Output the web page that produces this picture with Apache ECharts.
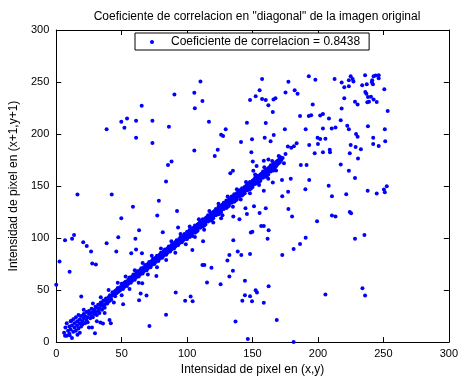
<!DOCTYPE html>
<html><head><meta charset="utf-8">
<script src="https://cdn.jsdelivr.net/npm/echarts@6/dist/echarts.min.js"></script>
<style>html,body{margin:0;padding:0;background:#fff}#c{width:461px;height:381px}</style>
</head><body><div id="c"></div>
<script>
const chartTitle = 'Coeficiente de correlacion en "diagonal" de la imagen original';
const xAxisName = 'Intensidad de pixel en (x,y)';
const yAxisName = 'Intensidad de pixel en (x+1,y+1)';
const seriesName = 'Coeficiente de correlacion = 0.8438';
const xTicks = [0, 50, 100, 150, 200, 250, 300];
const yTicks = [0, 50, 100, 150, 200, 250, 300];

// dense diagonal band, low part (wide)
const bandLow = [[6,9],[7,14],[8,6],[8,18],[9,11],[10,15],[10,8],[11,20],[11,12],[12,16],[13,10],[13,22],[14,14],[14,18],[15,11],[15,24],[16,16],[16,20],[17,13],[17,26],[18,18],[18,22],[19,15],[19,25],[20,20],[20,17],[21,27],[21,23],[22,18],[22,25],[23,21],[23,29],[24,24],[24,19],[25,27],[25,30],[26,23],[26,28],[27,25],[27,32],[28,29],[28,24],[29,31],[29,27],[30,34],[30,29],[31,26],[31,33],[32,30],[32,36],[33,32],[33,28],[34,35],[34,38],[35,31],[35,37],[36,34],[36,40],[37,36],[37,33],[38,39],[38,42],[39,37],[39,41],[40,43],[40,39],[41,40],[41,45],[42,44],[42,41]];
// diagonal band, middle part
const bandMid = [[43,45],[43,48],[44,46],[45,49],[45,44],[46,50],[46,47],[47,48],[47,52],[48,51],[48,49],[49,53],[49,50],[50,52],[50,56],[51,54],[51,51],[52,57],[52,53],[53,55],[53,58],[54,57],[54,54],[55,60],[55,56],[56,58],[56,62],[57,60],[57,57],[58,63],[58,59],[59,61],[59,65],[60,63],[60,60],[61,66],[61,62],[62,64],[62,68],[63,66],[63,63],[64,69],[64,65],[65,67],[65,71],[66,69],[66,66],[67,72],[67,68],[68,70],[68,74],[69,72],[69,69],[70,75],[70,71],[71,73],[71,77],[72,75],[72,72],[73,78],[73,74],[74,76],[74,80],[75,78],[75,75],[76,81],[76,77],[77,79],[77,83],[78,81],[78,78],[79,84],[79,80],[80,82],[80,86],[81,84],[81,81],[82,87],[82,83],[83,85],[83,89],[84,87],[84,84],[85,90],[85,86],[86,88],[86,92],[87,90],[87,87],[88,93],[88,89],[89,91],[89,95],[90,93],[90,90],[91,96],[91,92],[92,94],[92,98],[93,96],[93,93],[94,99],[94,95],[95,97],[95,101],[96,99],[96,96],[97,102],[97,98],[98,100],[98,104],[99,102],[99,99]];
// diagonal band, upper part
const bandHigh = [[100,99],[100,103],[100,106],[101,102],[101,105],[102,101],[102,104],[102,108],[103,106],[103,103],[104,105],[104,109],[104,102],[105,107],[105,110],[106,105],[106,108],[106,112],[107,110],[107,106],[108,109],[108,113],[108,107],[109,111],[109,114],[110,110],[110,113],[110,116],[111,112],[111,115],[112,111],[112,114],[112,118],[113,116],[113,112],[114,115],[114,119],[114,113],[115,117],[115,120],[116,116],[116,119],[116,122],[117,118],[117,121],[118,117],[118,120],[118,124],[119,122],[119,118],[120,121],[120,125],[120,119],[121,123],[121,126],[122,122],[122,125],[122,128],[123,124],[123,127],[124,123],[124,126],[124,130],[125,128],[125,124],[126,127],[126,131],[126,125],[127,129],[127,132],[128,128],[128,131],[128,134],[129,130],[129,133],[130,129],[130,132],[130,136],[131,134],[131,130],[132,133],[132,137],[132,131],[133,135],[133,138],[134,134],[134,137],[134,140],[135,136],[135,139],[136,135],[136,138],[136,142],[137,140],[137,136],[138,139],[138,143],[138,137],[139,141],[139,144],[140,140],[140,143],[140,146],[141,142],[141,145],[142,141],[142,144],[142,148],[143,146],[143,142],[144,145],[144,149],[144,143],[145,147],[145,150],[146,146],[146,149],[146,152],[147,148],[147,151],[148,147],[148,150],[148,154],[149,152],[149,148],[150,151],[150,155],[150,149],[151,153],[151,156],[152,152],[152,155],[152,158],[153,154],[153,157],[154,153],[154,156],[154,160],[155,158],[155,154],[156,157],[156,161],[156,155],[157,159],[157,162],[158,158],[158,161],[158,164],[159,160],[159,163],[160,159],[160,162],[160,166],[161,164],[161,160],[162,163],[162,167],[162,161],[163,165],[163,168],[164,164],[164,167],[164,170],[165,166],[165,169],[166,165],[166,168],[166,172],[167,170],[167,166],[168,169],[168,173],[169,171],[169,174],[170,172],[170,175],[171,173],[171,176],[172,175],[173,177]];
// ragged edges of the band
const bandEdge = [[12,4],[18,9],[21,31],[25,14],[28,37],[31,20],[34,43],[37,28],[40,50],[44,38],[47,57],[50,45],[53,63],[56,51],[60,69],[63,57],[66,76],[70,65],[73,83],[77,72],[80,90],[84,79],[88,97],[91,86],[95,104],[99,94],[102,111],[106,101],[109,118],[113,108],[117,126],[120,115],[124,133],[127,122],[131,140],[135,130],[138,147],[141,137],[145,154],[148,143],[152,161],[155,151],[159,168],[162,157],[165,174],[168,165],[171,178],[174,172],[170,179]];
// scattered points away from the diagonal
const outliers = [[110.2,250.5],[90.3,238.1],[105.5,239.7],[111.7,231.7],[105.9,224.8],[65.3,227.3],[148.1,232.7],[54.1,215],[49.7,211.7],[61,212.7],[73.5,212.7],[38.5,204.5],[52.1,206],[86.1,207],[116.7,211.7],[145.7,210.8],[129.5,204.5],[126,199.3],[127.5,198.1],[61,196.5],[73.5,191.4],[141.2,192.4],[149.6,195],[105.5,184.1],[123.4,185],[121.1,179],[149.1,182.6],[88.1,173.6],[85.4,170.2],[150.2,173.6],[135,164.8],[133,162.2],[150.6,164.8],[83.9,154.3],[16.2,141.9],[42.4,141.9],
[157.3,253],[193,255.5],[198,252.1],[177.4,250.2],[212.7,253],[218.1,249.5],[220.1,245],[223.6,251.7],[223.6,246],[225,255.5],[226.5,253],[227.1,250.5],[236,256.5],[237.3,247.9],[233.8,247],[242.5,255.5],[244,256.2],[246.4,256.5],[246.4,253.6],[241.4,251.7],[242,247.9],[241.2,249.8],[250.7,243.1],[236.2,240.3],[237,238.8],[238.2,235.5],[240.5,235.9],[242.5,233.3],[239,231.1],[237.7,230.5],[244.9,230.8],[155.4,242.2],[152.4,236.2],[157.3,233.6],[160.1,232.7],[166,233.3],[167.5,234.3],[175.2,240],[182.2,242.2],[184.4,238.8],[162.1,227.6],[165.5,221.2],[196,228.3],[220.1,234.3],[228.3,231.1],[230.3,228.3],[253.3,222.2],[218.1,224.5],[186.3,217.4],[193,217.4],[194.8,218.1],[201.7,217.8],[203.8,219.3],[208.4,215],[217.4,213.3],[222.4,207.9],[223.6,204.5],[238.2,207.6],[251.1,204.5],[160.1,210.5],[174.7,204.5],[190.6,204.5],[203.8,205.4],[210.5,205.4],[213.4,206.4],[229.1,200],[230.3,197.4],[242.2,196.5],[251.4,193],[242.2,190.5],[246.4,188.6],[159.3,196.5],[166.2,199],[163.8,193],[199.7,196.5],[201.7,195.2],[205.7,195.5],[225,189.5],[228.8,187.6],[232.8,185.4],[230.6,176.5],[193.3,189.5],[200,190.5],[209,185],[209.2,182.6],[203.8,182.6],[197.5,181.6],[224.3,181.6],[183.7,191.1],[181.6,188.3],[179.6,186.7],[177,187.9],[175.2,180.7],[153.1,169.2],[158.6,174.3],[162.1,175.5],[186.9,170.2],[191.3,170.2],[217.4,170.8],[223.6,164.8],[228.3,157.8],[179.2,157.1],[172.5,155.9],[193.3,155.9],[165.5,153.3],[208.2,150.2],[190.4,147],[177.2,144.5],[172.7,140.3],[158.6,145.4],[210.7,140.3],[221.6,142.2],[238,145.4],[244.9,142.9],[250.4,146.7],[251.1,144.1],[252.6,149.8],
[151.1,130.5],[160.1,128.6],[155.4,124.1],[177.4,127.9],[180.2,120.7],[156.6,111.7],[158.6,111.7],[162.3,107.6],[148.7,105.4],[149.9,106],[161.5,99.3],[148.1,84.8],[172.7,83.8],[181.4,89.5],[186.3,94.3],[190.6,100.3],[199.3,116.2],[210.7,121.6],[213.4,120.7],[224.3,125],[225.3,123.8],[228.3,99.3],[235.5,102.9],[148.1,44.1],[149.6,39.3],[152.4,49.8],[153.4,47.6],[162.3,53.6],[158.6,37.8],[168.5,21.2],[181.4,0],[205.7,45.7],[234,51.7],[236,44.8],
[58.6,130.2],[78.4,135.9],[92.3,126],[77.2,121.6],[49.7,119],[63.3,107.6],[93.1,110.2],[81.4,105.7],[6.7,97.8],[12.1,99.3],[13.6,102.9],[20.6,95.9],[23.3,92.4],[38.5,95],[47.4,100.7],[60.5,99.3],[26.6,87],[45.9,87],[61,88.9],[57.3,85.4],[65.5,85.4],[2.5,77.4],[27.5,75.5],[30.3,74.6],[10.2,67.6],[0,55.2],[76.5,63.5],[65.7,56.5],[64.5,46.7],[69,44.8],[63.3,40.3],[51.1,36.5],[19.1,43.8],[91.3,47.6],[83.9,26.4],[71.2,15.5],[35.7,17.8],[40.7,21.2],[41.7,18.1],[33.7,18.8],[27.3,14],[29.6,8.6],[10.2,6.7],[6.7,6],[16.2,7],[11.4,20.3],[102.7,43.8],[98.5,39.7],[104.2,39.3],[104,88.6],[112.2,96.9],[126,119],[135.3,120.7],[140,118.1],[144.6,128.6],[145.7,123.1],[135.3,97.8],[138.7,87],[141.4,83.8],[132.3,83.8],[130.8,78.4],[111.7,74],[113.2,74],[118.6,71.4],[135,68.6],[132.3,63.1],[115.2,57.4],[125.6,55.5],[144.2,59],[144.2,45],[142.2,39.7],[137,19.7],[146.4,2.9]];

const FONT = '"Liberation Sans", Arial, Helvetica, sans-serif';
const chart = echarts.init(document.getElementById('c'), null, {renderer: 'canvas'});
const axisCommon = {
  min: 0, max: 300, interval: 50,
  axisLine: {show: true, onZero: false, lineStyle: {color: '#000', width: 1}},
  axisTick: {show: true, inside: true, length: 5, lineStyle: {color: '#000'}},
  splitLine: {show: false}
};
chart.setOption({
  animation: false,
  backgroundColor: '#fff',
  title: {
    text: chartTitle, left: 252, top: 6, textAlign: 'center',
    textStyle: {fontFamily: FONT, fontSize: 12, fontWeight: 'normal', color: '#000'}
  },
  legend: {
    data: [seriesName], left: 135, top: 33,
    padding: [3, 9, 2, 15], itemWidth: 4, itemHeight: 4, icon: 'circle',
    borderColor: '#000', borderWidth: 1, backgroundColor: '#fff',
    textStyle: {fontFamily: FONT, fontSize: 12, color: '#000', padding: [0, 0, 0, 12]}
  },
  grid: {left: 51, right: 7, top: 30, bottom: 36, containLabel: false},
  xAxis: [
    Object.assign({}, axisCommon, {
      type: 'value', position: 'bottom',
      axisLabel: {fontFamily: FONT, fontSize: 11, color: '#000', margin: 6,
        formatter: v => xTicks.includes(v) ? String(v) : ''},
      name: xAxisName, nameLocation: 'middle', nameGap: 21,
      nameTextStyle: {fontFamily: FONT, fontSize: 12, color: '#000'}
    }),
    Object.assign({}, axisCommon, {type: 'value', position: 'top', axisLabel: {show: false}})
  ],
  yAxis: [
    Object.assign({}, axisCommon, {
      type: 'value', position: 'left',
      axisLabel: {fontFamily: FONT, fontSize: 11, color: '#000', margin: 7,
        formatter: v => yTicks.includes(v) ? String(v) : ''},
      name: yAxisName, nameLocation: 'middle', nameGap: 28,
      nameTextStyle: {fontFamily: FONT, fontSize: 12, color: '#000'}
    }),
    Object.assign({}, axisCommon, {type: 'value', position: 'right', axisLabel: {show: false}})
  ],
  series: [{
    name: seriesName, type: 'scatter', xAxisIndex: 0, yAxisIndex: 0,
    symbol: 'circle', symbolSize: 4,
    itemStyle: {color: '#0000ff', opacity: 1},
    data: bandLow.concat(bandMid, bandHigh, bandEdge, outliers)
  }]
});
</script>
</body></html>
